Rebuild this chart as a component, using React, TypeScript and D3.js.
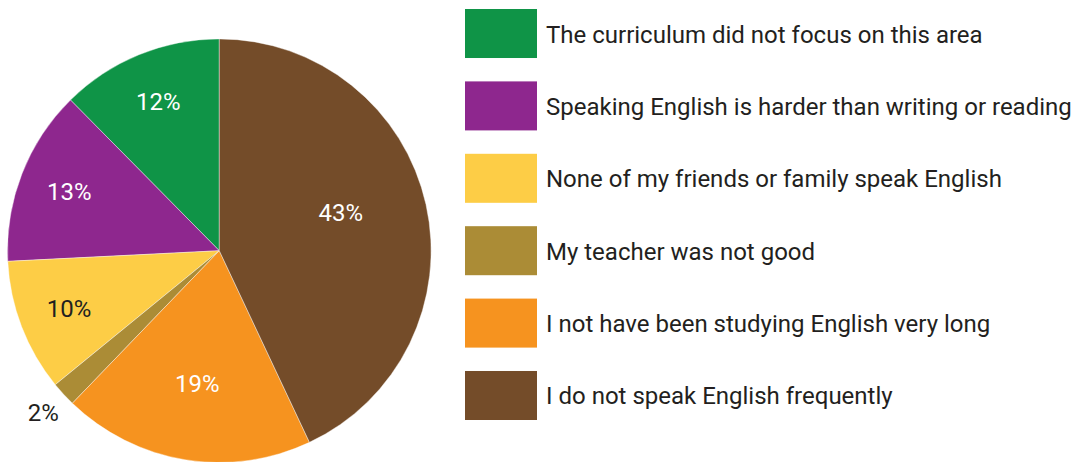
import React from "react";
import * as d3 from "d3";

const categories = [
  "The curriculum did not focus on this area",
  "Speaking English is harder than writing or reading",
  "None of my friends or family speak English",
  "My teacher was not good",
  "I not have been studying English very long",
  "I do not speak English frequently",
];
const values = [12.4, 13.4, 10.1, 1.9, 19.2, 43.0];
const colors = ["#0f9447", "#8e278e", "#fdcd46", "#ab8c36", "#f6931f", "#744c29"];
const labelColors = ["#ffffff", "#ffffff", "#231f20", "#231f20", "#ffffff", "#ffffff"];

const W = 1073;
const H = 462;
const cx = 219.3;
const cy = 250.7;
const R = 211.8;
const FONT = "Roboto, 'Liberation Sans', sans-serif";

export default function App() {
  const data = categories.map((c, i) => ({ c, v: values[i], i }));
  const pie = d3
    .pie<any>()
    .sort(null)
    .value((d) => d.v)
    .startAngle(2 * Math.PI)
    .endAngle(0);
  const arcs = pie(data);
  const arc = d3.arc<any>().innerRadius(0).outerRadius(R);
  const fmt = d3.format(".0f");

  const legendY = d3
    .scaleBand<number>()
    .domain(d3.range(categories.length))
    .range([9, 420])
    .paddingInner(0.323)
    .paddingOuter(0);

  const labelRadius = (v: number) => (v < 5 ? R * 1.13 : v < 15 ? R * 0.76 : v < 30 ? R * 0.64 : R * 0.6);

  return (
    <svg width={W} height={H} style={{ position: "absolute", left: 0, top: 0 }} fontFamily={FONT}>
      <rect width={W} height={H} fill="#ffffff" />
      <g transform={`translate(${cx},${cy})`}>
        {arcs.map((a, k) => (
          <path key={k} d={arc(a) as string} fill={colors[a.data.i]} stroke="#ffffff" strokeWidth={0.4} />
        ))}
        {arcs.map((a, k) => {
          const mid = (a.startAngle + a.endAngle) / 2 - (a.data.v > 30 ? 0.08 : 0);
          const r = labelRadius(a.data.v);
          const x = r * Math.sin(mid);
          const y = -r * Math.cos(mid);
          return (
            <text
              key={"l" + k}
              x={x}
              y={y}
              textAnchor="middle"
              dominantBaseline="central"
              fontSize={24}
              fill={labelColors[a.data.i]}
            >
              {fmt(a.data.v)}%
            </text>
          );
        })}
      </g>
      <g>
        {categories.map((c, i) => {
          const y0 = legendY(i) as number;
          const h = legendY.bandwidth();
          return (
            <g key={"lg" + i}>
              <rect x={465} y={y0} width={72} height={h} fill={colors[i]} />
              <text x={546} y={y0 + h / 2 + 1} dominantBaseline="central" fontSize={24} fill="#231f20">
                {c}
              </text>
            </g>
          );
        })}
      </g>
    </svg>
  );
}
